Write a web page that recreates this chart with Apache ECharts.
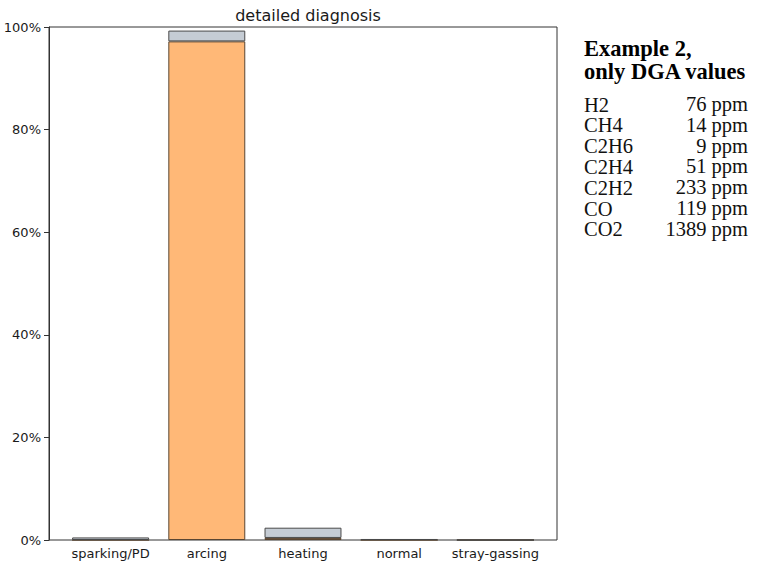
<!DOCTYPE html>
<html>
<head>
<meta charset="utf-8">
<script src="https://cdn.jsdelivr.net/npm/echarts@6/dist/echarts.min.js"></script>
<style>
  html, body { margin: 0; padding: 0; background: #fff; }
  #chart { width: 759px; height: 568px; }
</style>
</head>
<body>
<div id="chart"></div>
<script>
var categories = ['sparking/PD', 'arcing', 'heating', 'normal', 'stray-gassing'];
// share of each diagnosis, in percent
var arcingPart = [0, 97.2, 0.4, 0, 0];
var otherPart = [0.5, 2.1, 2.0, 0.2, 0];
var yTicks = [0, 20, 40, 60, 80, 100];

var gasNames = ['H2', 'CH4', 'C2H6', 'C2H4', 'C2H2', 'CO', 'CO2'];
var gasValues = [76, 14, 9, 51, 233, 119, 1389];

var myChart = echarts.init(document.getElementById('chart'), null, { renderer: 'svg' });

// text block on the right
var serif = '"Liberation Serif", "Times New Roman", serif';
var graphics = [{
    type: 'text',
    left: 584,
    top: 37,
    style: {
        text: 'Example 2,\nonly DGA values',
        font: 'bold 22.5px ' + serif,
        lineHeight: 23,
        fill: '#000'
    }
}];
gasNames.forEach(function(name, i) {
    var y = 94 + i * 20.8;
    graphics.push({
        type: 'text', left: 584, top: y,
        style: { text: name, font: '20.5px ' + serif, lineHeight: 20, fill: '#111' }
    });
    graphics.push({
        type: 'text', x: 748, y: y,
        style: { text: gasValues[i] + ' ppm', font: '20.5px ' + serif, lineHeight: 20, fill: '#111', align: 'right', verticalAlign: 'top' }
    });
});

var labelFont = { fontFamily: 'DejaVu Sans', fontSize: 13, color: '#1a1a1a' };

var option = {
    animation: false,
    title: {
        text: 'detailed diagnosis',
        left: 303,
        textAlign: 'center',
        top: 2,
        textStyle: { fontFamily: 'DejaVu Sans', fontSize: 16, fontWeight: 'normal', color: '#1a1a1a' }
    },
    // outer grid = axes frame, inner grid = data area (matplotlib-like margins)
    grid: [
        { left: 49, right: 202, top: 27, bottom: 28, show: true, borderColor: '#333', borderWidth: 1 },
        { left: 62.5, right: 215.5, top: 27, bottom: 28 }
    ],
    xAxis: [{
        gridIndex: 0,
        type: 'category',
        data: categories,
        show: false
    }, {
        gridIndex: 1,
        type: 'category',
        data: categories,
        axisLine: { show: false },
        axisTick: { alignWithLabel: true, length: 5, lineStyle: { color: '#333' } },
        axisLabel: Object.assign({ interval: 0, margin: 7 }, labelFont)
    }],
    yAxis: [{
        gridIndex: 0,
        type: 'value',
        min: yTicks[0],
        max: yTicks[yTicks.length - 1],
        interval: 20,
        splitLine: { show: false },
        axisLine: { show: true, lineStyle: { color: '#333' } },
        axisTick: { show: true, length: 5, lineStyle: { color: '#333' } },
        axisLabel: Object.assign({ margin: 8, formatter: '{value}%' }, labelFont)
    }, {
        gridIndex: 1,
        type: 'value',
        min: yTicks[0],
        max: yTicks[yTicks.length - 1],
        show: false
    }],
    series: [{
        name: 'arcing',
        type: 'bar',
        xAxisIndex: 1,
        yAxisIndex: 1,
        stack: 'total',
        barWidth: '80%',
        data: arcingPart,
        itemStyle: { color: '#ffb877', borderColor: '#5a4632', borderWidth: 1 }
    }, {
        name: 'other',
        type: 'bar',
        xAxisIndex: 1,
        yAxisIndex: 1,
        stack: 'total',
        barWidth: '80%',
        data: otherPart,
        itemStyle: { color: '#c5ccd4', borderColor: '#4a4a4a', borderWidth: 1 }
    }],
    graphic: graphics
};

myChart.setOption(option);
</script>
</body>
</html>
